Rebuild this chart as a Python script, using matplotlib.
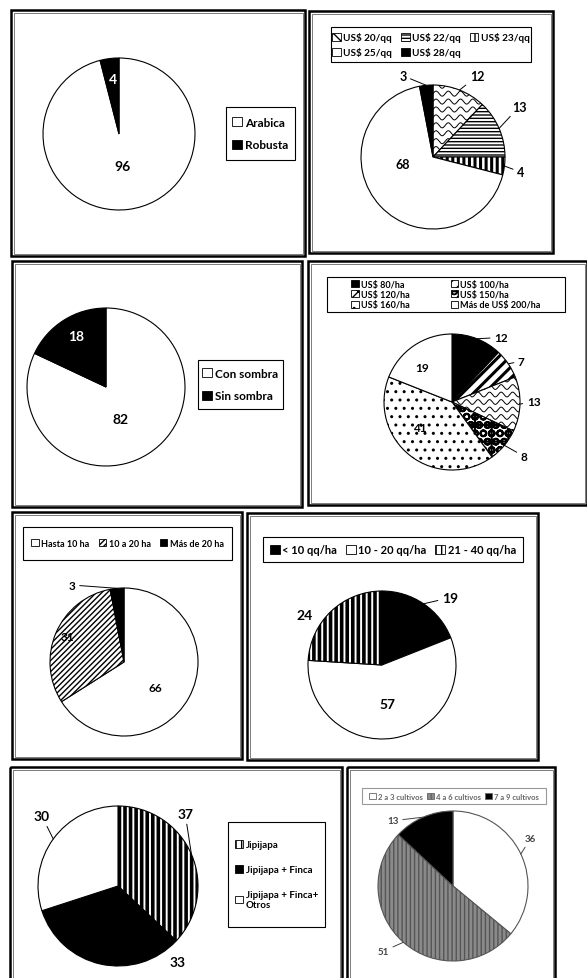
import numpy as np
import matplotlib
matplotlib.use("Agg")
import matplotlib.pyplot as plt
from matplotlib.patches import Patch, Rectangle

W, H = 587, 979

# ---- data (percent of farmers) ----
origin_labels = ['Arabica', 'Robusta']
origin_values = [96, 4]

price_labels = ['US$ 20/qq', 'US$ 22/qq', 'US$ 23/qq', 'US$ 25/qq', 'US$ 28/qq']
price_values = [12, 13, 4, 68, 3]

shade_labels = ['Con sombra', 'Sin sombra']
shade_values = [82, 18]

cost_labels = ['US$ 80/ha', 'US$ 100/ha', 'US$ 120/ha', 'US$ 150/ha',
               'US$ 160/ha', 'Más de US$ 200/ha']
cost_values = [12, 7, 13, 8, 41, 19]

area_labels = ['Hasta 10 ha', '10 a 20 ha', 'Más de 20 ha']
area_values = [66, 31, 3]

yield_labels = ['< 10 qq/ha', '10 - 20 qq/ha', '21 - 40 qq/ha']
yield_values = [19, 57, 24]

place_labels = ['Jipijapa', 'Jipijapa + Finca', 'Jipijapa + Finca+\nOtros']
place_values = [37, 33, 30]

crop_labels = ['2 a 3 cultivos', '4 a 6 cultivos', '7 a 9 cultivos']
crop_values = [36, 51, 13]

plt.rcParams['font.family'] = ['Lato', 'DejaVu Sans']
plt.rcParams['font.weight'] = 'bold'
plt.rcParams['hatch.linewidth'] = 1.0

fig = plt.figure(figsize=(W / 100, H / 100), dpi=100)
bg = fig.add_axes([0, 0, 1, 1])
bg.set_xlim(0, W)
bg.set_ylim(H, 0)
bg.axis('off')


def fx(x):
    return x / W


def fy(y):
    return 1 - y / H


def frame(x0, y0, x1, y1):
    bg.add_patch(Rectangle((x0, y0), x1 - x0, y1 - y0, fill=False, ec='black', lw=1.8))
    bg.add_patch(Rectangle((x0 + 2.5, y0 + 2.5), x1 - x0 - 5, y1 - y0 - 5,
                           fill=False, ec='#666666', lw=0.6))


def add_waves(ax, wedge, spacing=0.11, amp=0.035, period=0.17):
    xs = np.linspace(-1.1, 1.1, 300)
    for y0 in np.arange(-1.1, 1.1, spacing):
        ln, = ax.plot(xs, y0 + amp * np.sin(2 * np.pi * xs / period), color='black', lw=0.7)
        ln.set_clip_path(wedge)


def set_hatch(patch, hatch, lw):
    patch.set_hatch(hatch)
    if lw is not None and hasattr(patch, 'set_hatch_linewidth'):
        patch.set_hatch_linewidth(lw)


def make_handle(style, ec='black'):
    fc, hatch, hlw = style
    if hatch == 'wave':
        hatch = 'xx'
    p = Patch(facecolor=fc, edgecolor=ec, lw=0.6)
    if hatch:
        set_hatch(p, hatch, hlw)
    return p


def legend(x0, y0, x1, y1, styles, labels, ncol=1, fs=8, order=None, color='black',
           box_ec='black', **kw):
    bg.add_patch(Rectangle((x0, y0), x1 - x0, y1 - y0, fill=False, ec=box_ec, lw=0.8))
    handles = [make_handle(s, ec=color) for s in styles]
    if order is not None:
        handles = [handles[i] for i in order]
        labels = [labels[i] for i in order]
    leg = fig.legend(handles, labels, loc='center',
                     bbox_to_anchor=(fx((x0 + x1) / 2), fy((y0 + y1) / 2)),
                     ncol=ncol, frameon=False, fontsize=fs,
                     handlelength=0.85, handleheight=0.85, handletextpad=0.25,
                     borderpad=0.2, **kw)
    for t in leg.get_texts():
        t.set_color(color)
        t.set_fontweight('bold')
    return leg


def pie(cx, cy, r, values, styles, ec='black'):
    ax = fig.add_axes([fx(cx - r), fy(cy + r), 2 * r / W, 2 * r / H])
    wedges, _ = ax.pie(values, startangle=90, counterclock=False,
                       wedgeprops=dict(edgecolor=ec, linewidth=0.8))
    for w, (fc, hatch, hlw) in zip(wedges, styles):
        w.set_facecolor(fc)
        if hatch == 'wave':
            add_waves(ax, w)
        elif hatch:
            set_hatch(w, hatch, hlw)
    ax.set_xlim(-1, 1)
    ax.set_ylim(-1, 1)
    ax.axis('off')
    return ax, wedges


def labels_on(ax, wedges, values, positions, fs=10, colors=None, leaders=None):
    for i, (w, v, pos) in enumerate(zip(wedges, values, positions)):
        c = colors[i] if colors else 'black'
        if leaders and leaders[i]:
            th = np.deg2rad((w.theta1 + w.theta2) / 2)
            ax.annotate(str(v), xy=(np.cos(th), np.sin(th)), xytext=pos,
                        ha='center', va='center', fontsize=fs, fontweight='bold', color=c,
                        arrowprops=dict(arrowstyle='-', lw=0.7, color=c,
                                        shrinkA=1, shrinkB=0),
                        annotation_clip=False)
        else:
            ax.text(pos[0], pos[1], str(v), ha='center', va='center', fontsize=fs,
                    fontweight='bold', color=c)


# ---- panel 1: variedad ----
frame(11, 11, 305, 257)
s1 = [('white', None, None), ('black', None, None)]
ax, wd = pie(119, 135, 76, origin_values, s1)
labels_on(ax, wd, origin_values, [(0.04, -0.42), (-0.08, 0.72)], fs=10,
          colors=['black', 'white'])
legend(226, 108, 295, 161, s1, origin_labels, fs=8.5, labelspacing=1.0)

# ---- panel 2: precio ----
frame(309, 12, 553, 254)
s2 = [('white', 'wave', None), ('white', '-----', 1.0), ('white', '|||', 2.2),
      ('white', None, None), ('black', None, None)]
ax, wd = pie(433, 158, 72, price_values, s2)
labels_on(ax, wd, price_values,
          [(0.61, 1.12), (1.2, 0.7), (1.22, -0.21), (-0.42, -0.1), (-0.42, 1.13)],
          fs=9, leaders=[True, True, True, False, True])
legend(331, 28, 531, 63, s2, price_labels, ncol=3, fs=7.2, order=[0, 3, 1, 4, 2],
       columnspacing=0.9, labelspacing=0.5)

# ---- panel 3: sombra ----
frame(12, 262, 302, 508)
s3 = [('white', None, None), ('black', None, None)]
ax, wd = pie(106, 388, 79, shade_values, s3)
labels_on(ax, wd, shade_values, [(0.18, -0.41), (-0.38, 0.65)], fs=10,
          colors=['black', 'white'])
legend(198, 361, 283, 410, s3, shade_labels, fs=8.5, labelspacing=1.0)

# ---- panel 4: costo ----
frame(308, 262, 587, 506)
s4 = [('black', None, None), ('white', '///', 2.2), ('white', 'wave', None),
      ('white', 'OO+', 1.5), ('white', '..', 1.0), ('white', None, None)]
ax, wd = pie(452, 403, 68, cost_values, s4)
labels_on(ax, wd, cost_values,
          [(0.72, 0.95), (1.02, 0.6), (1.2, 0.01), (1.06, -0.8), (-0.47, -0.37), (-0.44, 0.51)],
          fs=8.5, leaders=[True, True, True, True, False, False])
legend(327, 278, 565, 313, s4, cost_labels, ncol=2, fs=6.5, order=[0, 2, 4, 1, 3, 5],
       columnspacing=4.5, labelspacing=0.15)

# ---- panel 5: superficie ----
frame(12, 513, 242, 760)
s5 = [('white', None, None), ('white', '//////', 1.0), ('black', None, None)]
ax, wd = pie(124, 663, 74, area_values, s5)
labels_on(ax, wd, area_values, [(0.42, -0.34), (-0.76, 0.34), (-0.7, 1.04)],
          fs=8.5, leaders=[False, False, True])
legend(23, 528, 232, 561, s5, area_labels, ncol=3, fs=6.5, columnspacing=1.0)

# ---- panel 6: rendimiento ----
frame(247, 514, 538, 761)
s6 = [('black', None, None), ('white', None, None), ('white', '|||', 2.6)]
ax, wd = pie(382, 666, 74, yield_values, s6)
labels_on(ax, wd, yield_values, [(0.92, 0.91), (0.07, -0.53), (-1.04, 0.68)],
          fs=10, leaders=[True, False, False])
legend(263, 538, 523, 563, s6, yield_labels, ncol=3, fs=8, columnspacing=0.8)

# ---- panel 7: lugar de venta ----
frame(10, 768, 342, 985)
s7 = [('white', '|||', 2.6), ('black', None, None), ('white', None, None)]
ax, wd = pie(118, 887, 80, place_values, s7)
labels_on(ax, wd, place_values, [(0.84, 0.9), (0.74, -0.95), (-0.95, 0.87)],
          fs=10, leaders=[True, False, True])
legend(228, 823, 325, 928, s7, place_labels, fs=7, labelspacing=1.6)

# ---- panel 8: cultivos ----
frame(347, 768, 555, 985)
s8 = [('white', None, None), ('#8a8a8a', '||||', 1.0), ('black', None, None)]
ax, wd = pie(453, 887, 75, crop_values, s8, ec='#555555')
labels_on(ax, wd, crop_values, [(1.03, 0.63), (-0.93, -0.87), (-0.8, 0.87)],
          fs=7, colors=['#444444'] * 3, leaders=[True, True, True])
legend(362, 789, 546, 805, s8, crop_labels, ncol=3, fs=5.5, color='#666666',
       box_ec='#999999', columnspacing=0.6)

fig.savefig('out.png', dpi=100)
